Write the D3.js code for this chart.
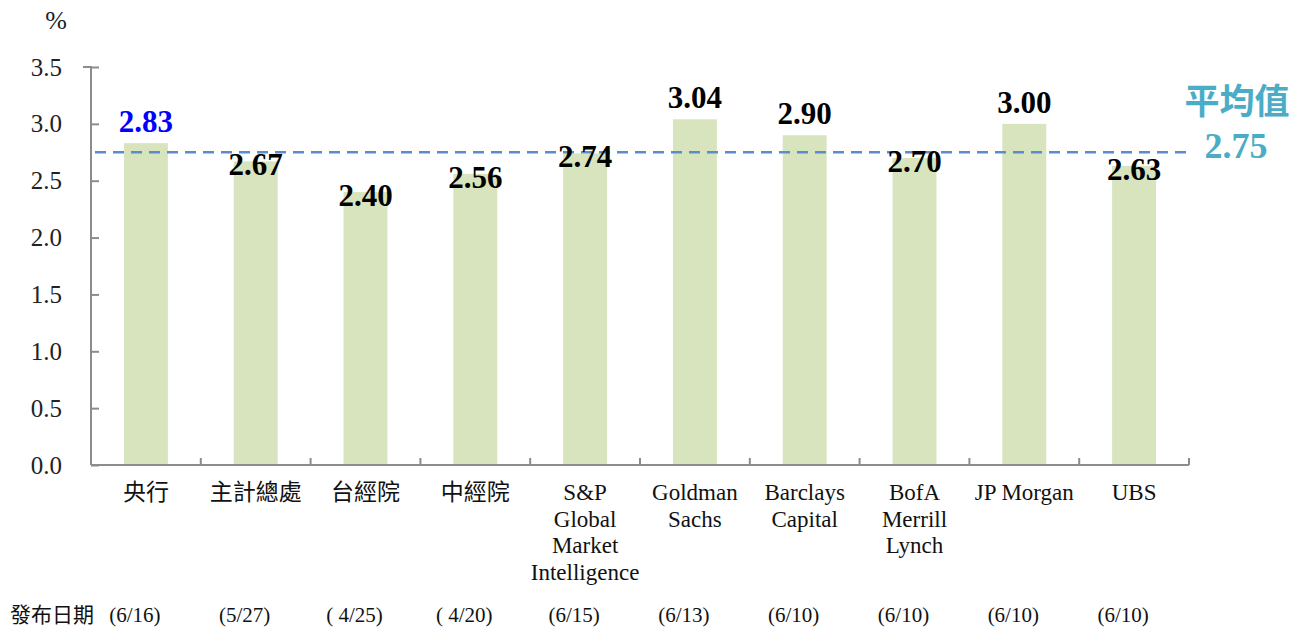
<!DOCTYPE html>
<html>
<head>
<meta charset="utf-8">
<script src="https://cdn.jsdelivr.net/npm/d3@7"></script>
<style>
  body { margin: 0; background: #fff; }
  svg { display: block; }
</style>
</head>
<body>
<div id="chart"></div>
<script>
// data
var categories = ["央行", "主計總處", "台經院", "中經院", "S&P Global Market Intelligence",
  "Goldman Sachs", "Barclays Capital", "BofA Merrill Lynch", "JP Morgan", "UBS"];
var categoryLines = [["央行"], ["主計總處"], ["台經院"], ["中經院"],
  ["S&P", "Global", "Market", "Intelligence"], ["Goldman", "Sachs"], ["Barclays", "Capital"],
  ["BofA", "Merrill", "Lynch"], ["JP Morgan"], ["UBS"]];
var values = [2.83, 2.67, 2.40, 2.56, 2.74, 3.04, 2.90, 2.70, 3.00, 2.63];
var releaseDates = ["(6/16)", "(5/27)", "( 4/25)", "( 4/20)", "(6/15)", "(6/13)", "(6/10)", "(6/10)", "(6/10)", "(6/10)"];
var yTicks = [0, 0.5, 1.0, 1.5, 2.0, 2.5, 3.0, 3.5];
var average = 2.75;

var width = 1294, height = 629;
var margin = { top: 67, right: 105, bottom: 164, left: 91 };

var serif = "'Liberation Serif', 'DejaVu Serif', serif";
var cjk = "'Liberation Serif', 'Noto Sans CJK TC', serif";

var svg = d3.select("#chart")
  .append("svg")
  .attr("width", width)
  .attr("height", height);

var x = d3.scaleBand()
  .domain(categories)
  .range([margin.left, width - margin.right])
  .paddingInner(0.6)
  .paddingOuter(0.3);

var y = d3.scaleLinear()
  .domain([0, 3.5])
  .range([height - margin.bottom, margin.top]);

// bars
svg.append("g")
  .selectAll("rect")
  .data(values)
  .enter()
  .append("rect")
  .attr("x", function (d, i) { return x(categories[i]); })
  .attr("y", function (d) { return y(d); })
  .attr("width", x.bandwidth())
  .attr("height", function (d) { return y(0) - y(d); })
  .attr("fill", "#d7e4bd");

// y axis, ticks pointing inward
var yAxis = svg.append("g")
  .attr("transform", "translate(" + margin.left + ",0)")
  .call(d3.axisLeft(y).tickValues(yTicks).tickFormat(d3.format(".1f")).tickSize(-8).tickPadding(29));
yAxis.selectAll("path, line").attr("stroke", "#8c8c8c").attr("stroke-width", 2);
yAxis.select(".domain").attr("d", "M" + -8 + "," + y(3.5) + "H0V" + y(0));
yAxis.selectAll("text")
  .attr("font-family", serif)
  .attr("font-size", "25px")
  .attr("fill", "#222");

svg.append("text")
  .attr("x", 56)
  .attr("y", 29)
  .attr("text-anchor", "middle")
  .attr("font-family", serif)
  .attr("font-size", "26px")
  .attr("fill", "#222")
  .text("%");

// x axis line with ticks at band boundaries
var step = x.step();
var xAxisG = svg.append("g");
xAxisG.append("line")
  .attr("x1", margin.left)
  .attr("x2", width - margin.right)
  .attr("y1", y(0))
  .attr("y2", y(0))
  .attr("stroke", "#8c8c8c")
  .attr("stroke-width", 2);
xAxisG.selectAll(".xtick")
  .data(categories)
  .enter()
  .append("line")
  .attr("class", "xtick")
  .attr("x1", function (d) { return x(d) + x.bandwidth() / 2 + step / 2; })
  .attr("x2", function (d) { return x(d) + x.bandwidth() / 2 + step / 2; })
  .attr("y1", y(0))
  .attr("y2", y(0) - 7)
  .attr("stroke", "#8c8c8c")
  .attr("stroke-width", 2);

// category labels
var catLabels = svg.append("g")
  .selectAll("text")
  .data(categoryLines)
  .enter()
  .append("text")
  .attr("text-anchor", "middle")
  .attr("font-family", cjk)
  .attr("font-size", "23px")
  .attr("fill", "#111");
catLabels.selectAll("tspan")
  .data(function (d, i) { return d.map(function (t) { return { t: t, i: i }; }); })
  .enter()
  .append("tspan")
  .attr("x", function (d) { return x(categories[d.i]) + x.bandwidth() / 2; })
  .attr("y", function (d, j) { return y(0) + 35 + j * 26.5; })
  .text(function (d) { return d.t; });

// release dates
svg.append("text")
  .attr("x", 10)
  .attr("y", 622)
  .attr("font-family", cjk)
  .attr("font-size", "21px")
  .attr("fill", "#111")
  .text("發布日期");
svg.append("g")
  .selectAll("text")
  .data(releaseDates)
  .enter()
  .append("text")
  .attr("x", function (d, i) { return x(categories[i]) + x.bandwidth() / 2 - 11; })
  .attr("y", 622)
  .attr("text-anchor", "middle")
  .attr("font-family", serif)
  .attr("font-size", "21px")
  .attr("fill", "#111")
  .text(function (d) { return d; });

// average line
svg.append("line")
  .attr("x1", margin.left + 4)
  .attr("x2", width - margin.right - 2)
  .attr("y1", y(average))
  .attr("y2", y(average))
  .attr("stroke", "#5b8ccc")
  .attr("stroke-width", 2.5)
  .attr("stroke-dasharray", "11,7");

svg.append("text")
  .attr("x", 1237)
  .attr("y", y(average) - 38)
  .attr("text-anchor", "middle")
  .attr("font-family", "'Noto Sans CJK TC', sans-serif")
  .attr("font-weight", "bold")
  .attr("font-size", "35px")
  .attr("fill", "#4bacc6")
  .text("平均值");
svg.append("text")
  .attr("x", 1236)
  .attr("y", y(average) + 6)
  .attr("text-anchor", "middle")
  .attr("font-family", serif)
  .attr("font-weight", "bold")
  .attr("font-size", "36px")
  .attr("fill", "#4bacc6")
  .text(d3.format(".2f")(average));

// value labels: above the bar when over the average, on the bar top otherwise
svg.append("g")
  .selectAll("text")
  .data(values)
  .enter()
  .append("text")
  .attr("x", function (d, i) { return x(categories[i]) + x.bandwidth() / 2; })
  .attr("y", function (d) { return d > average ? y(d) - 11 : y(d) + 14; })
  .attr("text-anchor", "middle")
  .attr("font-family", serif)
  .attr("font-weight", "bold")
  .attr("font-size", "31px")
  .attr("fill", function (d, i) { return i === 0 ? "#0000ff" : "#000"; })
  .text(function (d) { return d3.format(".2f")(d); });
</script>
</body>
</html>
